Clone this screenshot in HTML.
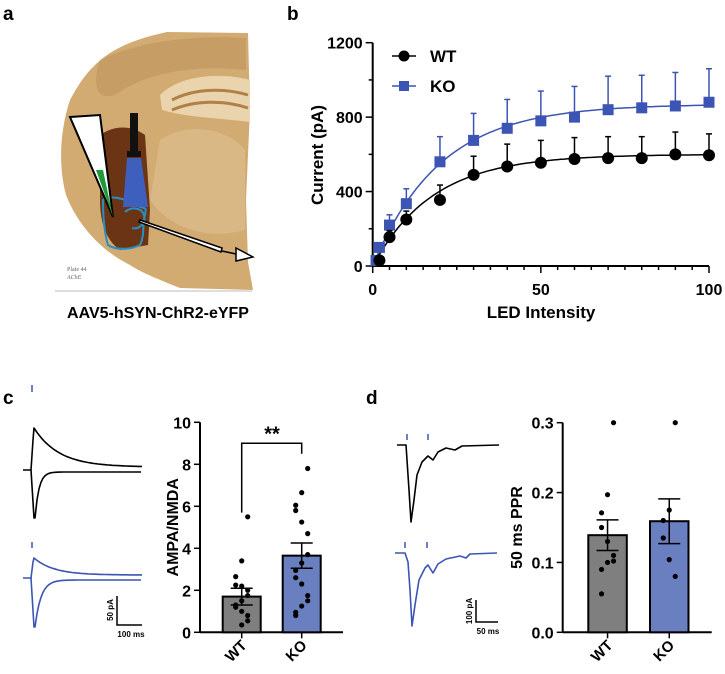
<!DOCTYPE html>
<html><head><meta charset="utf-8">
<style>
html,body{margin:0;padding:0;background:#fff;}
svg{display:block;font-family:"Liberation Sans",Arial,sans-serif;}
</style></head>
<body>
<svg id="fig" width="725" height="674" viewBox="0 0 725 674" xmlns="http://www.w3.org/2000/svg">
  <text x="3" y="20" font-size="19" font-weight="bold">a</text>
  <text x="287" y="20" font-size="19" font-weight="bold">b</text>
  <text x="3" y="404" font-size="19" font-weight="bold">c</text>
  <text x="366" y="404" font-size="19" font-weight="bold">d</text>

  <g>
    <path d="M93,67 C110,50 130,40 167,32 L248,33 L250,110 L246,200 L248,262 L253,290 L180,288 C160,280 140,272 130,265 C100,250 78,225 66,195 C58,165 60,130 70,100 C78,85 85,75 93,67 Z" fill="#d2ab72"/>
    <path d="M100,60 C140,40 200,35 246,38 L246,70 C200,65 150,70 115,95 C100,100 90,90 100,60 Z" fill="#b98f55" opacity="0.5"/>
    <path d="M160,95 C180,75 220,72 250,80 L250,122 C220,118 190,118 162,110 Z" fill="#e9d4ad"/>
    <path d="M172,100 C195,88 225,88 248,95" stroke="#b08048" stroke-width="3" fill="none"/>
    <path d="M172,110 C195,100 225,100 248,108" stroke="#b08048" stroke-width="3" fill="none"/>
    <path d="M160,140 C190,120 230,130 245,150 L245,230 C210,240 170,230 150,200 Z" fill="#dcbc8a" opacity="0.8"/>
    <path d="M100,135 C115,125 130,125 145,135 L150,210 L148,245 L120,250 C105,240 100,220 100,200 Z" fill="#6b3414"/>
    <path d="M103,200 C110,195 125,198 135,205 C145,210 147,205 145,215 C142,225 145,235 140,245 C130,250 115,250 108,245 C105,235 103,220 103,200 Z" fill="none" stroke="#2a8fc0" stroke-width="2"/>
    <path d="M125,212 C132,206 142,208 144,215 C146,222 140,230 132,228" fill="none" stroke="#2a8fc0" stroke-width="2"/>
    <polygon points="70,117 100,115 113,217" fill="#fff" stroke="#000" stroke-width="2"/>
    <polygon points="96,170 103,170 113,217" fill="#1f9a3a"/>
    <rect x="130" y="113" width="8" height="42" fill="#111"/>
    <rect x="127" y="151" width="14" height="6" fill="#111"/>
    <polygon points="127,158 141,158 148,207 123,207" fill="#3f5fbf"/>
    <polygon points="140,220 222,248 221,252 139,222" fill="#fff" stroke="#000" stroke-width="1.5"/>
    <line x1="222" y1="251" x2="236" y2="254" stroke="#000" stroke-width="1.5"/>
    <polygon points="236,248 253,257 236,261" fill="#fff" stroke="#000" stroke-width="1.5"/>
    <text x="67" y="271" font-size="6" fill="#666" font-family="Liberation Serif,serif">Plate 44</text>
    <text x="67" y="279" font-size="6" fill="#666" font-family="Liberation Serif,serif" font-style="italic">AChE</text>
    <line x1="55" y1="291" x2="252" y2="291" stroke="#bbb" stroke-width="1"/>
  </g>
  <text x="158" y="318" font-size="16" font-weight="bold" text-anchor="middle">AAV5-hSYN-ChR2-eYFP</text>

  <g id="panelB"></g>
  <g id="tracesC"></g>
  <g id="panelC"></g>
  <g id="tracesD"></g>
  <g id="panelD"></g>
</svg>
<script>
// ---------- Panel b data ----------
const ledX = [2, 5, 10, 20, 30, 40, 50, 60, 70, 80, 90, 100];
const wtY = [30, 155, 250, 355, 490, 535, 555, 575, 580, 580, 600, 595];
const wtErr = [15, 35, 45, 80, 100, 120, 120, 115, 115, 115, 120, 115];
const koX = [1, 2, 5, 10, 20, 30, 40, 50, 60, 70, 80, 90, 100];
const koY = [30, 100, 220, 335, 560, 675, 740, 780, 800, 840, 850, 860, 880];
const koErr = [10, 20, 55, 80, 135, 145, 155, 160, 165, 180, 175, 180, 180];
const fitWT = [600, 18];   // plateau, tau
const fitKO = [870, 20];
const bYTicks = [0, 400, 800, 1200];
const bXTicks = [0, 50, 100];
// ---------- Panel c data ----------
const cCats = ["WT", "KO"];
const cMeans = [1.7, 3.65];
const cSEM = [0.4, 0.6];
const cWTpts = [5.5, 3.4, 2.65, 2.25, 2.2, 2.0, 1.75, 1.5, 1.3, 1.2, 1.0, 0.8, 0.55, 0.35];
const cKOpts = [7.8, 6.65, 6.05, 5.8, 5.25, 4.7, 3.7, 3.3, 2.95, 2.6, 2.3, 1.75, 1.5, 1.25, 0.95, 0.8];
const cYTicks = [0, 2, 4, 6, 8, 10];
// ---------- Panel d data ----------
const dCats = ["WT", "KO"];
const dMeans = [0.139, 0.159];
const dSEM = [0.022, 0.032];
const dWTpts = [0.30, 0.197, 0.171, 0.15, 0.13, 0.11, 0.102, 0.1, 0.09, 0.055];
const dKOpts = [0.30, 0.175, 0.16, 0.135, 0.104, 0.08];
const dYTicks = [0.0, 0.1, 0.2, 0.3];

const NS = "http://www.w3.org/2000/svg";
function mk(parent, tag, attrs, txt) {
  const e = document.createElementNS(NS, tag);
  for (const k in attrs) e.setAttribute(k, attrs[k]);
  if (txt !== undefined) e.textContent = txt;
  parent.appendChild(e);
  return e;
}
const BLUE = "#3c55b4";

// ================= Panel b =================
(function () {
  const g = document.getElementById("panelB");
  const X = v => 372.7 + v * (709 - 372.7) / 100;
  const Y = v => 266 - v * (266 - 42.7) / 1200;
  let ax = mk(g, "line", {x1: X(0), y1: Y(0), x2: X(100), y2: Y(0), stroke: "#000", "stroke-width": 2});
  
  
  let ay = mk(g, "line", {x1: X(0), y1: Y(0), x2: X(0), y2: Y(1200), stroke: "#000", "stroke-width": 2});
  
  
  for (let v = 0; v <= 100; v += 5) {
    const major = bXTicks.includes(v);
    mk(g, "line", {x1: X(v), y1: Y(0), x2: X(v), y2: Y(0) + (major ? 7 : 4), stroke: "#000", "stroke-width": 1.5});
  }
  for (let v = 0; v <= 1200; v += 200) {
    const major = bYTicks.includes(v);
    mk(g, "line", {x1: X(0), y1: Y(v), x2: X(0) - (major ? 7 : 4), y2: Y(v), stroke: "#000", "stroke-width": 1.5});
  }
  bXTicks.forEach(v => {
    const t = mk(g, "text", {x: X(v), y: Y(0) + 29, "font-size": 16, "font-weight": "bold", "text-anchor": "middle"}, String(v));
    
    
  });
  bYTicks.forEach(v => {
    const t = mk(g, "text", {x: X(0) - 10, y: Y(v) + 6, "font-size": 16, "font-weight": "bold", "text-anchor": "end"}, String(v));
    
    
  });
  const yt = mk(g, "text", {x: 0, y: 0, "font-size": 17, "font-weight": "bold", "text-anchor": "middle", transform: "translate(323,155) rotate(-90)"}, "Current (pA)");
  
  
  const xt = mk(g, "text", {x: 541, y: 318, "font-size": 17, "font-weight": "bold", "text-anchor": "middle"}, "LED Intensity");
  
  
  function fitPath(p) {
    let d = "";
    for (let x = 0; x <= 100; x += 1) d += (x ? "L" : "M") + X(x).toFixed(1) + "," + Y(p[0] * (1 - Math.exp(-x / p[1]))).toFixed(1);
    return d;
  }
  const fw = mk(g, "path", {d: fitPath(fitWT), fill: "none", stroke: "#000", "stroke-width": 1.5});
  
  
  const fk = mk(g, "path", {d: fitPath(fitKO), fill: "none", stroke: BLUE, "stroke-width": 1.5});
  
  
  koX.forEach((x, i) => {
    mk(g, "line", {x1: X(x), y1: Y(koY[i]), x2: X(x), y2: Y(koY[i] + koErr[i]), stroke: BLUE, "stroke-width": 1.5});
    mk(g, "line", {x1: X(x) - 3, y1: Y(koY[i] + koErr[i]), x2: X(x) + 3, y2: Y(koY[i] + koErr[i]), stroke: BLUE, "stroke-width": 1.5});
    const m = mk(g, "rect", {x: X(x) - 5.5, y: Y(koY[i]) - 5.5, width: 11, height: 11, fill: BLUE});
    
    
  });
  ledX.forEach((x, i) => {
    mk(g, "line", {x1: X(x), y1: Y(wtY[i]), x2: X(x), y2: Y(wtY[i] + wtErr[i]), stroke: "#000", "stroke-width": 1.5});
    mk(g, "line", {x1: X(x) - 3, y1: Y(wtY[i] + wtErr[i]), x2: X(x) + 3, y2: Y(wtY[i] + wtErr[i]), stroke: "#000", "stroke-width": 1.5});
    const m = mk(g, "circle", {cx: X(x), cy: Y(wtY[i]), r: 6, fill: "#000"});
    
    
  });
  const lg = mk(g, "g", {});
  
  
  mk(lg, "line", {x1: 392, y1: 56, x2: 416, y2: 56, stroke: "#000", "stroke-width": 1.5});
  mk(lg, "circle", {cx: 404, cy: 56, r: 5.5, fill: "#000"});
  const l1 = mk(lg, "text", {x: 430, y: 62, "font-size": 17, "font-weight": "bold"}, "WT");
  
  
  mk(lg, "line", {x1: 392, y1: 86, x2: 416, y2: 86, stroke: BLUE, "stroke-width": 1.5});
  mk(lg, "rect", {x: 399, y: 81, width: 10, height: 10, fill: BLUE});
  const l2 = mk(lg, "text", {x: 430, y: 92, "font-size": 17, "font-weight": "bold"}, "KO");
  
  
})();

// ================= Bar chart helper =================
function barChart(g, opt) {
  const Y = v => opt.y0 - (v - opt.ymin) * (opt.y0 - opt.ytop) / (opt.ymax - opt.ymin);
  const ax = mk(g, "line", {x1: opt.ax, y1: opt.y0, x2: opt.axEnd, y2: opt.y0, stroke: "#000", "stroke-width": 2});
  
  
  const ay = mk(g, "line", {x1: opt.ax, y1: opt.y0, x2: opt.ax, y2: Y(opt.ymax), stroke: "#000", "stroke-width": 2});
  
  
  opt.ticks.forEach(v => {
    mk(g, "line", {x1: opt.ax, y1: Y(v), x2: opt.ax - 6, y2: Y(v), stroke: "#000", "stroke-width": 1.5});
    const t = mk(g, "text", {x: opt.ax - 9, y: Y(v) + 6, "font-size": 16, "font-weight": "bold", "text-anchor": "end"}, opt.fmt(v));
    
    
  });
  const yt = mk(g, "text", {x: 0, y: 0, "font-size": 16, "font-weight": "bold", "text-anchor": "middle", transform: "translate(" + opt.titleX + "," + ((opt.y0 + opt.ytop) / 2) + ") rotate(-90)"}, opt.title);
  
  
  const colors = ["#7f7f7f", "#6a7fc0"];
  opt.cats.forEach((c, i) => {
    const x0 = opt.barX[i], w = opt.barW, cx = x0 + w / 2;
    const b = mk(g, "rect", {x: x0, y: Y(opt.means[i]), width: w, height: opt.y0 - Y(opt.means[i]), fill: colors[i], stroke: "#000", "stroke-width": 2});
    
    
    opt.pts[i].forEach((v, j) => {
      const off = ((j % 3) - 1) * 6 * (j % 2 ? 1 : -1);
      const p = mk(g, "circle", {cx: cx + off, cy: Y(v), r: 2.6, fill: "#000"});
      
      
    });
    const lo = opt.means[i] - opt.sem[i], hi = opt.means[i] + opt.sem[i];
    mk(g, "line", {x1: cx, y1: Y(lo), x2: cx, y2: Y(hi), stroke: "#000", "stroke-width": 1.5});
    mk(g, "line", {x1: cx - 11, y1: Y(lo), x2: cx + 11, y2: Y(lo), stroke: "#000", "stroke-width": 1.5});
    mk(g, "line", {x1: cx - 11, y1: Y(hi), x2: cx + 11, y2: Y(hi), stroke: "#000", "stroke-width": 1.5});
    mk(g, "line", {x1: cx, y1: opt.y0, x2: cx, y2: opt.y0 + 6, stroke: "#000", "stroke-width": 1.5});
    const t = mk(g, "text", {x: 0, y: 0, "font-size": 15, "font-weight": "bold", "text-anchor": "end", transform: "translate(" + (cx + 6) + "," + (opt.y0 + 14) + ") rotate(-45)"}, c);
    
    
  });
  return Y;
}

// ================= Panel c =================
(function () {
  const g = document.getElementById("panelC");
  const Y = barChart(g, {ax: 200, axEnd: 343, y0: 632.3, ytop: 422.3, ymin: 0, ymax: 10, ticks: cYTicks,
    fmt: v => String(v), title: "AMPA/NMDA", titleX: 178, cats: cCats, means: cMeans, sem: cSEM,
    pts: [cWTpts, cKOpts], barX: [222.7, 282.7], barW: 38});
  const br = mk(g, "path", {d: "M241.7," + Y(5.7) + " V" + Y(9.0) + " H301.7 V" + Y(8.5), fill: "none", stroke: "#000", "stroke-width": 1.5});
  
  
  const st = mk(g, "text", {x: 272, y: Y(9.0) - 3, "font-size": 20, "font-weight": "bold", "text-anchor": "middle"}, "**");
  
  
})();

// ================= Panel d =================
(function () {
  const g = document.getElementById("panelD");
  barChart(g, {ax: 562.7, axEnd: 711.7, y0: 632.3, ytop: 422.7, ymin: 0, ymax: 0.3, ticks: dYTicks,
    fmt: v => v.toFixed(1), title: "50 ms PPR", titleX: 522, cats: dCats, means: dMeans, sem: dSEM,
    pts: [dWTpts, dKOpts], barX: [588.3, 650], barW: 38.5});
})();

// ================= Traces =================
function trace(g, pts, color, name) {
  const p = mk(g, "path", {d: "M" + pts.map(q => q.join(",")).join(" L"), fill: "none", stroke: color, "stroke-width": 1.6, "stroke-linejoin": "round"});
  
  
}
function decay(x0, x1, yBase, yPeak, tau, yEnd) {
  const pts = [];
  for (let x = x0; x <= x1; x += 2) pts.push([x, (yEnd + (yPeak - yEnd) * Math.exp(-(x - x0) / tau)).toFixed(1)]);
  return pts;
}
(function () {
  const g = document.getElementById("tracesC");
  mk(g, "line", {x1: 32, y1: 385, x2: 32, y2: 392, stroke: BLUE, "stroke-width": 1.5});
  trace(g, [[23, 470], [31, 470], [33, 440]].concat(decay(34, 142, 470, 428, 25, 467)), "#000", "ampa-trace-wt-upper");
  trace(g, [[31, 470], [34, 518]].concat(decay(35, 142, 470, 518, 4, 472)), "#000", "nmda-trace-wt-lower");
  mk(g, "line", {x1: 32, y1: 542, x2: 32, y2: 548, stroke: BLUE, "stroke-width": 1.5});
  trace(g, [[23, 578], [31, 578], [33, 562]].concat(decay(34, 142, 578, 558, 20, 575)), BLUE, "trace-ko-upper");
  trace(g, [[31, 578], [34, 627]].concat(decay(35, 142, 578, 627, 6, 580)), BLUE, "trace-ko-lower");
  const sb = mk(g, "path", {d: "M117,596 V625 H142", fill: "none", stroke: "#000", "stroke-width": 1.5});
  
  
  mk(g, "text", {x: 0, y: 0, "font-size": 8, "font-weight": "bold", "text-anchor": "middle", transform: "translate(113,610) rotate(-90)"}, "50 pA");
  mk(g, "text", {x: 131, y: 637, "font-size": 8, "font-weight": "bold", "text-anchor": "middle"}, "100 ms");
})();
(function () {
  const g = document.getElementById("tracesD");
  [[407, 434], [428, 434], [405, 542], [427, 542]].forEach(t => mk(g, "line", {x1: t[0], y1: t[1], x2: t[0], y2: t[1] + 6, stroke: BLUE, "stroke-width": 1.5}));
  trace(g, [[397, 445], [406, 445], [409, 490], [411, 522], [414, 500], [417, 475], [422, 462], [428, 456], [433, 460], [438, 452], [446, 448], [455, 450], [462, 446], [499, 445]], "#000", "ppr-trace-wt");
  trace(g, [[395, 553], [405, 553], [408, 562], [410, 590], [412, 626], [415, 605], [419, 580], [425, 568], [428, 565], [433, 573], [438, 564], [446, 559], [460, 556], [466, 558], [470, 554], [497, 553]], BLUE, "ppr-trace-ko");
  const sb = mk(g, "path", {d: "M476,600 V622 H498", fill: "none", stroke: "#000", "stroke-width": 1.5});
  
  
  mk(g, "text", {x: 0, y: 0, "font-size": 8, "font-weight": "bold", "text-anchor": "middle", transform: "translate(472,611) rotate(-90)"}, "100 pA");
  mk(g, "text", {x: 488, y: 634, "font-size": 8, "font-weight": "bold", "text-anchor": "middle"}, "50 ms");
})();
</script>
</body></html>
